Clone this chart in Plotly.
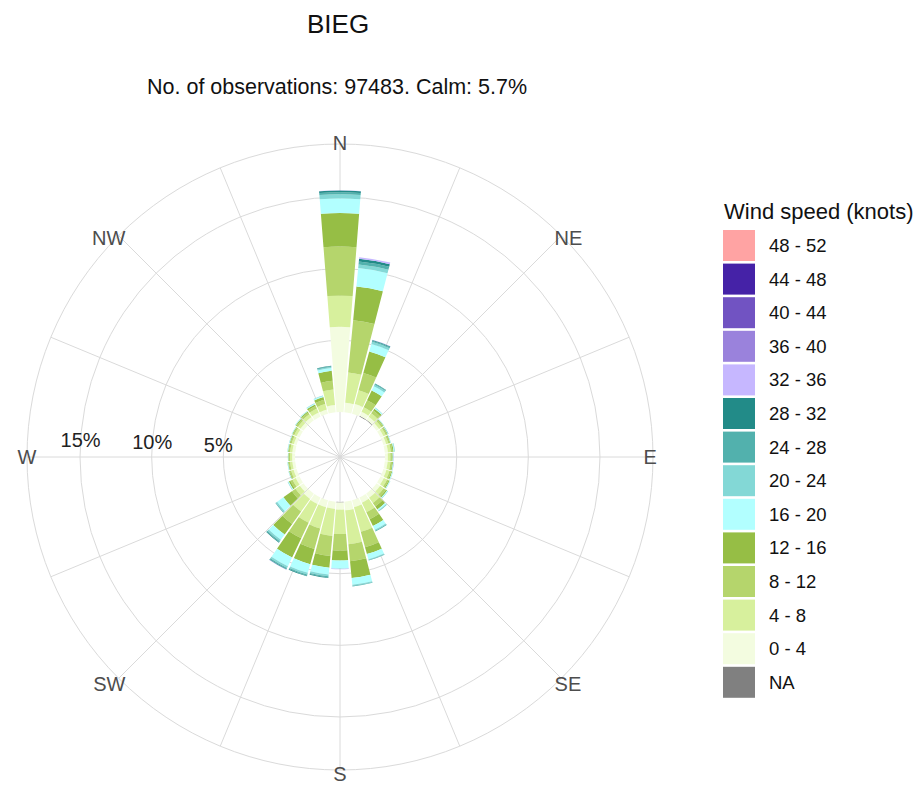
import plotly.graph_objects as go

# ---------------- data (percent of observations) ----------------
directions = [0, 10, 20, 30, 40, 50, 60, 70, 80, 90, 100, 110, 120, 130, 140, 150, 160, 170,
              180, 190, 200, 210, 220, 230, 240, 250, 260, 270, 280, 290, 300, 310, 320, 330, 340, 350]

spd_na = [0, 0, 0, 0.05, 0.05, 0, 0, 0, 0, 0, 0, 0, 0, 0, 0, 0, 0, 0,
          0.04, 0, 0, 0, 0, 0, 0, 0, 0, 0, 0, 0, 0, 0, 0, 0, 0, 0]
spd_0_4 = [5.95, 0.66, 0.70, 0.30, 0.25, 0.22, 0.22, 0.20, 0.22, 0.20, 0.20, 0.22, 0.25, 0.30, 0.35, 0.40, 0.50, 0.60,
           0.50, 0.50, 0.50, 0.50, 0.45, 0.30, 0.28, 0.22, 0.20, 0.20, 0.20, 0.20, 0.22, 0.25, 0.28, 0.30, 0.30, 0.50]
spd_4_8 = [2.17, 2.13, 1.00, 0.35, 0.30, 0.20, 0.18, 0.16, 0.20, 0.18, 0.20, 0.22, 0.25, 0.30, 0.45, 0.73, 1.78, 2.37,
           1.69, 1.89, 1.53, 1.44, 1.08, 0.38, 0.25, 0.18, 0.16, 0.15, 0.16, 0.16, 0.18, 0.22, 0.25, 0.30, 0.40, 1.10]
spd_8_12 = [3.42, 3.66, 1.25, 0.55, 0.25, 0.12, 0.10, 0.09, 0.12, 0.10, 0.12, 0.13, 0.13, 0.20, 0.30, 0.54, 1.11, 1.19,
            1.16, 1.41, 1.49, 1.20, 1.07, 0.30, 0.17, 0.10, 0.09, 0.08, 0.09, 0.09, 0.10, 0.12, 0.14, 0.20, 0.30, 0.60]
spd_12_16 = [2.34, 2.36, 1.55, 0.75, 0.15, 0.06, 0.05, 0.05, 0.08, 0.06, 0.06, 0.07, 0.07, 0.10, 0.25, 0.53, 0.50, 1.18,
             0.70, 0.83, 1.11, 1.48, 0.91, 0.73, 0.12, 0.05, 0.05, 0.04, 0.05, 0.05, 0.05, 0.07, 0.08, 0.12, 0.20, 0.70]
spd_16_20 = [1.02, 1.30, 0.55, 0.33, 0.07, 0.03, 0.03, 0.03, 0.05, 0.03, 0.03, 0.04, 0.04, 0.05, 0.10, 0.28, 0.37, 0.47,
             0.55, 0.47, 0.62, 0.68, 0.45, 0.54, 0.06, 0.03, 0.03, 0.02, 0.03, 0.03, 0.03, 0.03, 0.04, 0.06, 0.08, 0.20]
spd_20_24 = [0.30, 0.24, 0.15, 0.12, 0.03, 0.02, 0.02, 0.02, 0.03, 0.02, 0.02, 0.02, 0.02, 0.03, 0.05, 0.08, 0.06, 0.07,
             0.03, 0.12, 0.12, 0.14, 0.12, 0.10, 0.03, 0.02, 0.02, 0.01, 0.02, 0.02, 0.02, 0.02, 0.02, 0.03, 0.03, 0.07]
spd_24_28 = [0.14, 0.22, 0.08, 0.06, 0, 0, 0.01, 0, 0.01, 0, 0, 0, 0, 0, 0.02, 0.05, 0.04, 0.05,
             0, 0.08, 0.08, 0.08, 0.08, 0.05, 0, 0, 0, 0, 0, 0, 0, 0, 0, 0, 0, 0.05]
spd_28_32 = [0.12, 0.18, 0.05, 0.03, 0, 0, 0, 0, 0, 0, 0, 0, 0, 0, 0, 0, 0, 0,
             0, 0.04, 0.05, 0.04, 0.04, 0, 0, 0, 0, 0, 0, 0, 0, 0, 0, 0, 0, 0.03]
spd_32_36 = [0.02, 0.12, 0.02, 0, 0, 0, 0, 0, 0, 0.02, 0.02, 0, 0, 0, 0, 0, 0, 0,
             0.03, 0, 0, 0.02, 0, 0, 0, 0, 0, 0, 0, 0, 0, 0, 0, 0, 0, 0]
spd_36_40 = [0] * 36
spd_40_44 = [0] * 36
spd_44_48 = [0] * 36
spd_48_52 = [0] * 36

bin_labels = ["NA", "0 - 4", "4 - 8", "8 - 12", "12 - 16", "16 - 20", "20 - 24", "24 - 28",
              "28 - 32", "32 - 36", "36 - 40", "40 - 44", "44 - 48", "48 - 52"]
bin_values = [spd_na, spd_0_4, spd_4_8, spd_8_12, spd_12_16, spd_16_20, spd_20_24, spd_24_28,
              spd_28_32, spd_32_36, spd_36_40, spd_40_44, spd_44_48, spd_48_52]
bin_colors = ["#808080", "#f3fce0", "#d7f09d", "#b5d56c", "#96be45", "#b2ffff", "#83d8d6", "#52b1ad",
              "#228b88", "#c6b7ff", "#9a82dc", "#7153c2", "#4522a7", "#ffa3a3"]

radial_ticks = [5, 10, 15]
grid_vals = [0, 22.5, 45, 67.5, 90, 112.5, 135, 157.5, 180, 202.5, 225, 247.5, 270, 292.5, 315, 337.5]
compass_vals = [0, 45, 90, 135, 180, 225, 270, 315]
compass_text = ["N", "NE", "E", "SE", "S", "SW", "W", "NW"]

title_text = "BIEG"
subtitle_text = "No. of observations: 97483. Calm: 5.7%"
legend_title = "Wind speed (knots)"

# ---------------- figure ----------------
W, H = 917, 785
FONT = "Liberation Sans, Arial, sans-serif"
GRID = "#dadada"

def px_x(p):
    return p / W

def px_y(p):
    return 1 - p / H

fig = go.Figure()
for lab, vals, col in zip(bin_labels, bin_values, bin_colors):
    fig.add_trace(go.Barpolar(
        r=vals, theta=directions, width=9, name=lab,
        marker=dict(color=col, line=dict(width=0)),
        showlegend=False, subplot="polar",
    ))
# empty trace so the label-only polar subplot is drawn
fig.add_trace(go.Scatterpolar(r=[], theta=[], subplot="polar2", showlegend=False, hoverinfo="skip"))

cx, cy, R, R_lab = 340, 457, 313, 303
r_min, r_max = -3.14, 18.7                     # main radial range (0 % sits at the calm ring)
scale = (r_max - r_min) / R                    # percent per pixel
lab_shift = -20                                # centre the % labels on their circles
lab_min = r_min + lab_shift * scale
lab_max = lab_min + R_lab * scale
lab_angle = 178

fig.update_layout(
    width=W, height=H,
    margin=dict(l=0, r=0, t=0, b=0),
    paper_bgcolor="white",
    font=dict(family=FONT, color="#222222"),
    polar=dict(
        domain=dict(x=[px_x(cx - R), px_x(cx + R)], y=[px_y(cy + R), px_y(cy - R)]),
        bgcolor="white",
        barmode="stack",
        radialaxis=dict(
            range=[r_min, r_max],
            tickvals=radial_ticks, showticklabels=False,
            angle=180, showline=False, ticks="",
            gridcolor=GRID, gridwidth=1,
        ),
        angularaxis=dict(
            rotation=90, direction="clockwise",
            tickmode="array", tickvals=grid_vals, showticklabels=False,
            ticks="", showline=True, linecolor=GRID, linewidth=1,
            gridcolor=GRID, gridwidth=1,
        ),
    ),
    polar2=dict(
        domain=dict(x=[px_x(cx - R_lab), px_x(cx + R_lab)], y=[px_y(cy + R_lab), px_y(cy - R_lab)]),
        bgcolor="rgba(0,0,0,0)",
        radialaxis=dict(
            range=[lab_min, lab_max],
            tickvals=radial_ticks,
            ticktext=[f"{v}%" for v in radial_ticks],
            angle=lab_angle, side="clockwise", tickangle=lab_angle,
            showline=False, showgrid=False, ticks="",
            tickfont=dict(size=20, color="#222222", family=FONT),
        ),
        angularaxis=dict(
            rotation=90, direction="clockwise",
            tickmode="array", tickvals=compass_vals, ticktext=compass_text,
            ticks="", showline=False, showgrid=False,
            tickfont=dict(size=20, color="#4d4d4d", family=FONT),
        ),
    ),
)

annotations = [
    dict(text=title_text, x=px_x(338), y=px_y(24), xref="paper", yref="paper",
         showarrow=False, xanchor="center", yanchor="middle", font=dict(size=26, color="#111111")),
    dict(text=subtitle_text, x=px_x(337), y=px_y(87), xref="paper", yref="paper",
         showarrow=False, xanchor="center", yanchor="middle", font=dict(size=21.5, color="#111111")),
    dict(text=legend_title, x=px_x(722), y=px_y(212), xref="paper", yref="paper",
         showarrow=False, xanchor="left", yanchor="middle", font=dict(size=22, color="#111111")),
]
shapes = []
legend_order = list(zip(bin_labels, bin_colors))[::-1]
for i, (lab, col) in enumerate(legend_order):
    top = 230 + i * 33.6
    shapes.append(dict(type="rect", xref="paper", yref="paper",
                       x0=px_x(723), x1=px_x(755), y0=px_y(top + 31), y1=px_y(top),
                       fillcolor=col, line=dict(width=0)))
    annotations.append(dict(text=lab, x=px_x(767), y=px_y(top + 15.5), xref="paper", yref="paper",
                            showarrow=False, xanchor="left", yanchor="middle",
                            font=dict(size=18.5, color="#111111")))
fig.update_layout(annotations=annotations, shapes=shapes)

fig.write_html("out.html", config={"displayModeBar": False},
               post_script="document.body.style.margin='0';")
